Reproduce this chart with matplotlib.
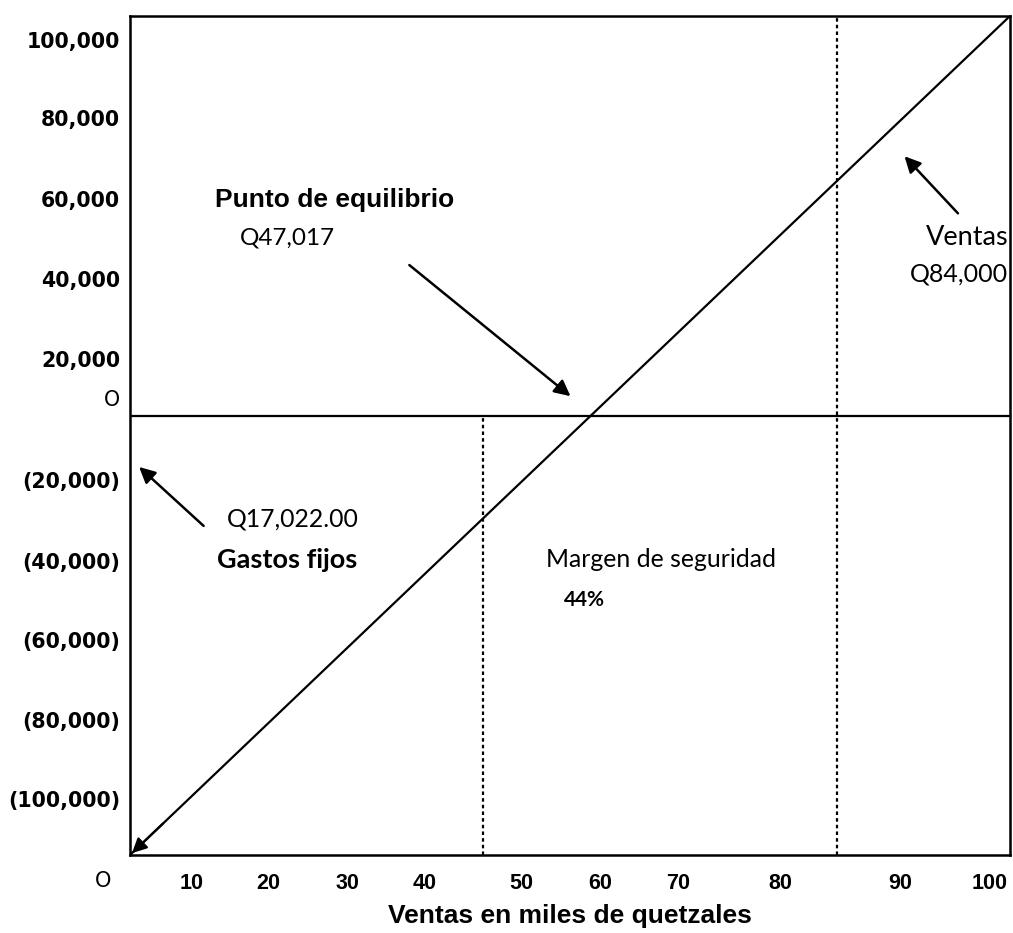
import numpy as np
import matplotlib
matplotlib.use('Agg')
import matplotlib.pyplot as plt

# valores del grafico (quetzales)
ventas_x = [0, 100]
ventas_y = [-110000, 100000]
linea_margen = 40.1     # linea punteada izquierda
linea_ventas = 80.3     # linea punteada derecha

ytick_labels = ['100,000', '80,000', '60,000', '40,000', '20,000', 'O',
                '(20,000)', '(40,000)', '(60,000)', '(80,000)', '(100,000)']
ytick_pos = [94100, 74400, 54100, 34100, 14100, 4400,
             -16100, -36400, -56100, -76100, -96100]
xtick_labels = ['10', '20', '30', '40', '50', '60', '70', '80', '90', '100']
xtick_pos = [7.0, 15.7, 24.7, 33.5, 44.5, 53.4, 62.3, 73.9, 87.5, 97.7]

fig = plt.figure(figsize=(10.13, 9.33), dpi=100)
ax = fig.add_axes([130 / 1013, 78 / 933, 880 / 1013, 839 / 933])
ax.set_xlim(0, 100)
ax.set_ylim(-110000, 100000)

for s in ax.spines.values():
    s.set_linewidth(1.8)
    s.set_color('black')

# linea de ventas con flecha en el origen
ax.plot(ventas_x, ventas_y, color='black', lw=1.6, solid_capstyle='butt')
ax.annotate('', xy=(ventas_x[0], ventas_y[0]), xytext=(4, ventas_y[0] + 8400),
            arrowprops=dict(arrowstyle='-|>', color='black', lw=1.6, mutation_scale=22),
            annotation_clip=False)

ax.axhline(0, color='black', lw=1.6)
ax.vlines(linea_margen, -110000, 0, color='black', lw=1.6, linestyles=(0, (1.6, 1.4)))
ax.vlines(linea_ventas, -110000, 100000, color='black', lw=1.6, linestyles=(0, (1.6, 1.4)))

ax.set_yticks(ytick_pos)
ax.set_yticklabels(ytick_labels, family='DejaVu Sans', fontweight='bold', fontsize=14.8)
ax.get_yticklabels()[5].set_fontweight('normal')
ax.set_xticks(xtick_pos)
ax.set_xticklabels(xtick_labels, family='Liberation Sans', fontweight='bold', fontsize=15.5)
ax.tick_params(axis='y', length=0, pad=7)
ax.tick_params(axis='x', length=0, pad=13)
ax.text(-3.1, -116600, 'O', ha='center', va='center', fontsize=15,
        family='DejaVu Sans', clip_on=False)

ax.set_xlabel('Ventas en miles de quetzales', family='Liberation Sans',
              fontweight='bold', fontsize=19)
ax.xaxis.set_label_coords(0.5, -0.058)

flecha = dict(arrowstyle='-|>', color='black', lw=1.8, mutation_scale=24)

# punto de equilibrio
ax.text(9.7, 53900, 'Punto de equilibrio', family='Liberation Sans',
        fontweight='bold', fontsize=19, ha='left', va='center')
ax.text(12.5, 44400, 'Q47,017', family='Lato', fontsize=17.5, ha='left', va='center')
ax.annotate('', xy=(50.3, 4400), xytext=(31.5, 38100), arrowprops=flecha)

# ventas
ax.text(99.8, 44600, 'Ventas', family='Lato', fontsize=19.5, ha='right', va='center')
ax.text(99.8, 35400, 'Q84,000', family='Lato', fontsize=18, ha='right', va='center')
ax.annotate('', xy=(87.8, 65400), xytext=(94.3, 50100), arrowprops=flecha)

# gastos fijos
ax.text(11.0, -25900, 'Q17,022.00', family='Lato', fontsize=17.8, ha='left', va='center')
ax.text(9.9, -36100, 'Gastos fijos', family='Lato', fontweight='bold',
        fontsize=19.5, ha='left', va='center')
ax.annotate('', xy=(0.8, -12400), xytext=(8.6, -28100), arrowprops=flecha)

# margen de seguridad
ax.text(47.3, -36100, 'Margen de seguridad', family='Lato', fontsize=17.8,
        ha='left', va='center')
ax.text(49.3, -46100, '44%', family='Lato', fontweight='bold', fontsize=15,
        ha='left', va='center')

fig.savefig('out.png', dpi=100)
